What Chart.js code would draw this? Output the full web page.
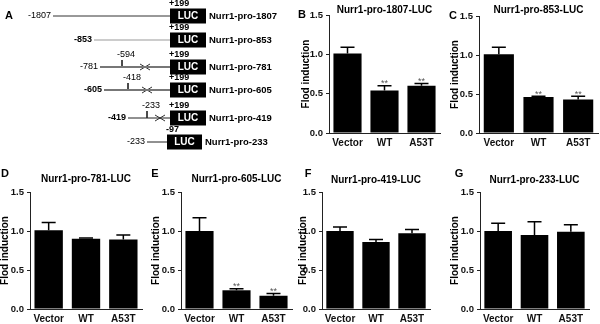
<!DOCTYPE html>
<html>
<head>
<meta charset="utf-8">
<script src="https://cdn.jsdelivr.net/npm/chart.js@4/dist/chart.umd.min.js"></script>
<style>
html, body { margin: 0; padding: 0; background: #fff; }
#wrap { position: relative; width: 600px; height: 324px; overflow: hidden; }
canvas { position: absolute; }
</style>
</head>
<body>
<div id="wrap"></div>
<script>
// ---- panel A constructs
const constructNames = ['Nurr1-pro-1807', 'Nurr1-pro-853', 'Nurr1-pro-781', 'Nurr1-pro-605', 'Nurr1-pro-419', 'Nurr1-pro-233'];
const startSites = ['-1807', '-853', '-781', '-605', '-419', '-233'];
const endSites = ['+199', '+199', '+199', '+199', '+199', '-97'];
const deletionSites = ['', '', '-594', '-418', '-233', ''];

// ---- bar panels B-G
const groups = ['Vector', 'WT', 'A53T'];
const yTicks = [0, 0.5, 1.0, 1.5];
const panelLetters = ['B', 'C', 'D', 'E', 'F', 'G'];
const panelTitles = ['Nurr1-pro-1807-LUC', 'Nurr1-pro-853-LUC', 'Nurr1-pro-781-LUC', 'Nurr1-pro-605-LUC', 'Nurr1-pro-419-LUC', 'Nurr1-pro-233-LUC'];
const yTitle = 'Flod induction';

const fold1807 = [1.01, 0.54, 0.60];
const err1807 = [0.08, 0.06, 0.03];
const sig1807 = ['', '**', '**'];
const fold853 = [1.01, 0.46, 0.43];
const err853 = [0.09, 0.01, 0.04];
const sig853 = ['', '**', '**'];
const fold781 = [1.01, 0.90, 0.89];
const err781 = [0.10, 0.01, 0.06];
const sig781 = ['', '', ''];
const fold605 = [1.00, 0.24, 0.17];
const err605 = [0.17, 0.02, 0.03];
const sig605 = ['', '**', '**'];
const fold419 = [1.00, 0.86, 0.97];
const err419 = [0.05, 0.03, 0.05];
const sig419 = ['', '', ''];
const fold233 = [1.00, 0.95, 0.99];
const err233 = [0.10, 0.17, 0.09];
const sig233 = ['', '', ''];

const FONT = '"Liberation Sans", Arial, sans-serif';
Chart.defaults.font.family = FONT;
Chart.defaults.color = '#111';

const wrap = document.getElementById('wrap');
function makeCanvas(left, top, w, h) {
    const c = document.createElement('canvas');
    c.width = w; c.height = h;
    c.style.left = left + 'px'; c.style.top = top + 'px';
    c.style.width = w + 'px'; c.style.height = h + 'px';
    wrap.appendChild(c);
    return c;
}

// ---------- panel A: schematic
const rowY = [16, 40, 67, 90, 118, 142];
const lineStartX = [53, 94, 100, 104, 128, 147];
const boxX = [170, 170, 170, 170, 170, 167];
const boxW = [36, 36, 36, 36, 36, 35];
const delX = [null, null, 122, 128, 147, null];
const breakX = [null, null, 145, 147, 160, null];
const lineColors = ['#333', '#999', '#777', '#777', '#222', '#222'];
const lineWidths = [1, 1, 2, 2, 1, 1];
const startBold = [false, true, false, true, true, false];

const schemeSets = [];
constructNames.forEach((n, i) => {
    schemeSets.push({
        data: [{x: lineStartX[i], y: rowY[i]}, {x: boxX[i], y: rowY[i]}],
        borderColor: lineColors[i], borderWidth: lineWidths[i]
    });
    if (delX[i] !== null) {
        schemeSets.push({
            data: [{x: delX[i], y: rowY[i] - 7}, {x: delX[i], y: rowY[i]}],
            borderColor: '#333', borderWidth: 1
        });
    }
    if (breakX[i] !== null) {
        schemeSets.push({
            data: [{x: breakX[i] - 5, y: rowY[i] - 3}, {x: breakX[i] + 5, y: rowY[i] + 3}],
            borderColor: '#333', borderWidth: 1
        });
        schemeSets.push({
            data: [{x: breakX[i] - 5, y: rowY[i] + 3}, {x: breakX[i] + 5, y: rowY[i] - 3}],
            borderColor: '#333', borderWidth: 1
        });
    }
});
schemeSets.forEach(d => { d.showLine = true; d.pointRadius = 0; d.fill = false; });

const schemeDeco = {
    id: 'schemeDeco',
    afterDatasetsDraw(chart) {
        const ctx = chart.ctx;
        const sx = chart.scales.x, sy = chart.scales.y;
        ctx.save();
        ctx.fillStyle = '#000';
        ctx.font = 'bold 11px ' + FONT;
        ctx.textAlign = 'left'; ctx.textBaseline = 'middle';
        ctx.fillText('A', sx.getPixelForValue(5), sy.getPixelForValue(16));
        constructNames.forEach((name, i) => {
            const y = sy.getPixelForValue(rowY[i]);
            const x0 = sx.getPixelForValue(boxX[i]);
            const x1 = sx.getPixelForValue(boxX[i] + boxW[i]);
            ctx.fillStyle = '#000';
            ctx.fillRect(x0, y - 7.5, x1 - x0, 15);
            ctx.fillStyle = '#fff';
            ctx.font = 'bold 10px ' + FONT;
            ctx.textAlign = 'center';
            ctx.fillText('LUC', (x0 + x1) / 2, y);
            ctx.fillStyle = '#000';
            ctx.textAlign = 'left';
            ctx.font = 'bold 9.5px ' + FONT;
            ctx.fillText(name, x1 + 3, y + 0.5);
            ctx.font = 'bold 9px ' + FONT;
            ctx.fillText(endSites[i], x0 - 1, y - 12);
            ctx.textAlign = 'right';
            ctx.font = (startBold[i] ? 'bold ' : '') + '9px ' + FONT;
            ctx.fillText(startSites[i], sx.getPixelForValue(lineStartX[i]) - 2, y);
            if (deletionSites[i]) {
                ctx.textAlign = 'center';
                ctx.font = '9px ' + FONT;
                ctx.fillText(deletionSites[i], sx.getPixelForValue(delX[i]) + 4, y - 12.5);
            }
        });
        ctx.restore();
    }
};

new Chart(makeCanvas(0, 0, 300, 170), {
    type: 'scatter',
    data: {datasets: schemeSets},
    options: {
        responsive: false, animation: false, devicePixelRatio: 1,
        layout: {padding: 0},
        plugins: {legend: {display: false}, tooltip: {enabled: false}},
        scales: {
            x: {type: 'linear', min: 0, max: 300, display: false},
            y: {type: 'linear', min: 0, max: 170, reverse: true, display: false}
        }
    },
    plugins: [schemeDeco]
});

// ---------- bar panels
const panelValues = [fold1807, fold853, fold781, fold605, fold419, fold233];
const panelErrors = [err1807, err853, err781, err605, err419, err233];
const panelMarks = [sig1807, sig853, sig781, sig605, sig419, sig233];

const panelBoxes = [
    {left: 295, top: 0, height: 152, axisX: 329, right: 440, plotTop: 15, plotBottom: 133, titleY: 10, letterX: 302, letterY: 15, yTitleX: 306},
    {left: 445, top: 0, height: 152, axisX: 479, right: 598, plotTop: 16, plotBottom: 133, titleY: 10, letterX: 453, letterY: 16, yTitleX: 455},
    {left: 0, top: 164, height: 160, axisX: 30, right: 142, plotTop: 192, plotBottom: 309, titleY: 179, letterX: 5, letterY: 174, yTitleX: 5},
    {left: 148, top: 164, height: 160, axisX: 181, right: 292, plotTop: 192, plotBottom: 309, titleY: 179, letterX: 155, letterY: 174, yTitleX: 156},
    {left: 298, top: 164, height: 160, axisX: 322, right: 430, plotTop: 192, plotBottom: 309, titleY: 180, letterX: 308, letterY: 174, yTitleX: 303},
    {left: 448, top: 164, height: 160, axisX: 480, right: 589, plotTop: 192, plotBottom: 309, titleY: 180, letterX: 459, letterY: 174, yTitleX: 455}
];

const panelDeco = {
    id: 'panelDeco',
    afterDatasetsDraw(chart, args, opts) {
        const ctx = chart.ctx;
        const ys = chart.scales.y;
        const area = chart.chartArea;
        const meta = chart.getDatasetMeta(0);
        const b = opts.box;
        ctx.save();
        // error bars
        ctx.strokeStyle = '#000';
        ctx.lineWidth = 1.5;
        meta.data.forEach((bar, i) => {
            const top = ys.getPixelForValue(opts.values[i] + opts.errors[i]);
            ctx.beginPath();
            ctx.moveTo(bar.x, bar.y);
            ctx.lineTo(bar.x, top);
            ctx.moveTo(bar.x - 7, top);
            ctx.lineTo(bar.x + 7, top);
            ctx.stroke();
            if (opts.marks[i]) {
                ctx.fillStyle = '#555';
                ctx.font = '9px ' + FONT;
                ctx.textAlign = 'center';
                ctx.textBaseline = 'alphabetic';
                ctx.fillText(opts.marks[i], bar.x, top + 0.5);
            }
        });
        // titles
        ctx.fillStyle = '#000';
        ctx.textBaseline = 'middle';
        ctx.textAlign = 'center';
        ctx.font = 'bold 10px ' + FONT;
        ctx.fillText(opts.title, (area.left + area.right) / 2, b.titleY - b.top);
        ctx.font = 'bold 11px ' + FONT;
        ctx.fillText(opts.letter, b.letterX - b.left, b.letterY - b.top);
        ctx.font = 'bold 10px ' + FONT;
        ctx.translate(b.yTitleX - b.left, (area.top + area.bottom) / 2);
        ctx.rotate(-Math.PI / 2);
        ctx.fillText(yTitle, 0, 0);
        ctx.restore();
    }
};

panelBoxes.forEach((b, p) => {
    const w = b.right - b.left + 6;
    const xAxisH = b.height - (b.plotBottom - b.top);
    new Chart(makeCanvas(b.left, b.top, w, b.height), {
        type: 'bar',
        data: {
            labels: groups,
            datasets: [{
                data: panelValues[p],
                backgroundColor: '#000',
                borderWidth: 0,
                barPercentage: 0.76,
                categoryPercentage: 1
            }]
        },
        options: {
            responsive: false, animation: false, devicePixelRatio: 1,
            layout: {padding: {top: b.plotTop - b.top, left: 0, right: 6, bottom: 0}},
            plugins: {
                legend: {display: false},
                tooltip: {enabled: false},
                panelDeco: {
                    box: b, values: panelValues[p], errors: panelErrors[p], marks: panelMarks[p],
                    title: panelTitles[p], letter: panelLetters[p]
                }
            },
            scales: {
                x: {
                    grid: {display: false, drawTicks: false},
                    border: {display: true, color: '#222', width: 1},
                    ticks: {padding: 4, font: {size: 10, weight: 'bold'}, color: '#111',
                        maxRotation: 0, minRotation: 0, autoSkip: false},
                    afterFit: s => { s.height = xAxisH; }
                },
                y: {
                    min: 0, max: 1.5,
                    afterBuildTicks: s => { s.ticks = yTicks.map(v => ({value: v})); },
                    grid: {drawOnChartArea: false, drawTicks: true, tickLength: 3, color: '#222', lineWidth: 1},
                    border: {display: true, color: '#222', width: 1},
                    ticks: {padding: 3, font: {size: 9.5, weight: 'bold'}, color: '#111',
                        callback: v => Number(v).toFixed(1)},
                    afterFit: s => { s.width = b.axisX - b.left; }
                }
            }
        },
        plugins: [panelDeco]
    });
});
</script>
</body>
</html>
